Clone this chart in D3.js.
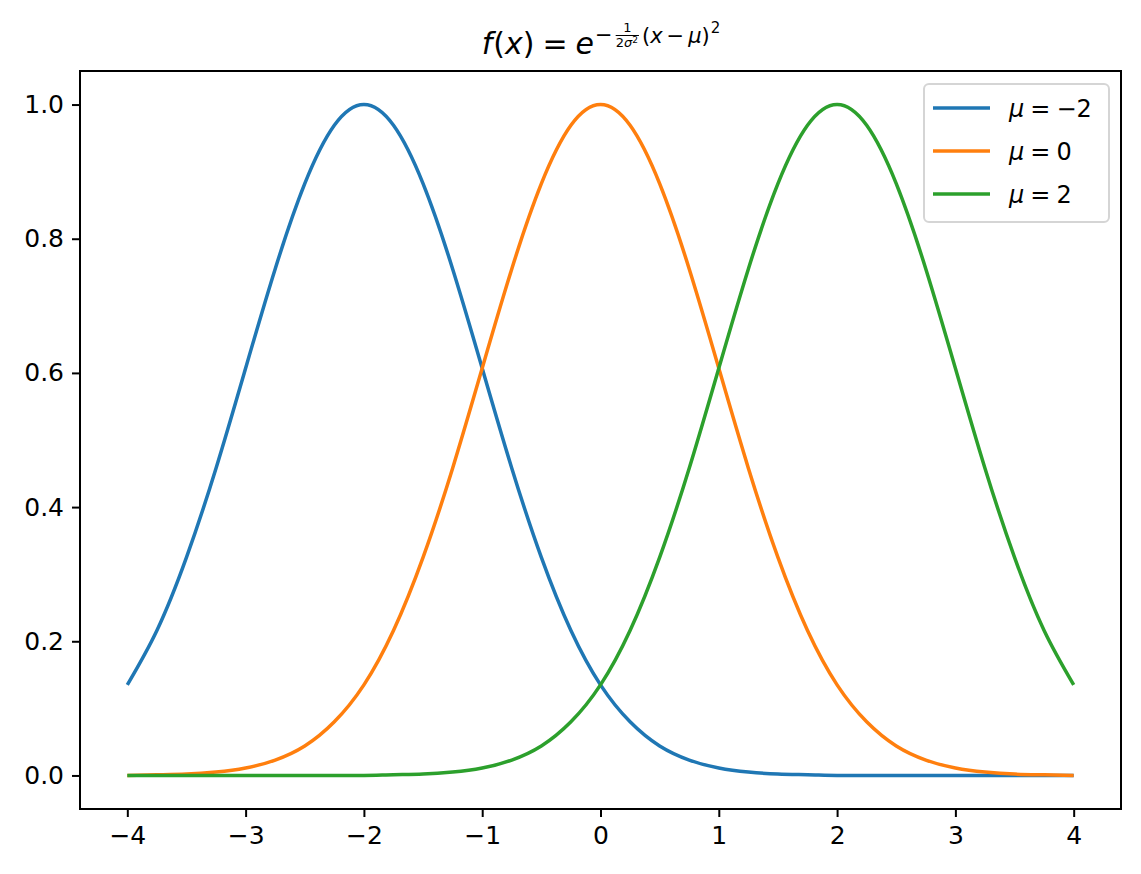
<!DOCTYPE html>
<html><head><meta charset="utf-8">
<script src="https://cdn.jsdelivr.net/npm/d3@7"></script>
<style>body{margin:0;background:#fff}svg{display:block}text{font-family:"DejaVu Sans",sans-serif}</style>
</head><body>
<svg id="c" width="1141" height="874"></svg>
<script>
const xs = [-4,-3.75,-3.5,-3.25,-3,-2.75,-2.5,-2.25,-2,-1.75,-1.5,-1.25,-1,-0.75,-0.5,-0.25,0,0.25,0.5,0.75,1,1.25,1.5,1.75,2,2.25,2.5,2.75,3,3.25,3.5,3.75,4];
const muNeg2 = [0.135,0.216,0.325,0.458,0.607,0.755,0.882,0.969,1.000,0.969,0.882,0.755,0.607,0.458,0.325,0.216,0.135,0.080,0.044,0.023,0.011,0.005,0.002,0.001,0.000,0,0,0,0,0,0,0,0];
const mu0 = [0.000,0.001,0.002,0.005,0.011,0.023,0.044,0.080,0.135,0.216,0.325,0.458,0.607,0.755,0.882,0.969,1.000,0.969,0.882,0.755,0.607,0.458,0.325,0.216,0.135,0.080,0.044,0.023,0.011,0.005,0.002,0.001,0.000];
const mu2 = [0,0,0,0,0,0,0,0,0.000,0.001,0.002,0.005,0.011,0.023,0.044,0.080,0.135,0.216,0.325,0.458,0.607,0.755,0.882,0.969,1.000,0.969,0.882,0.755,0.607,0.458,0.325,0.216,0.135];
const seriesNames = ["−2","0","2"];
const seriesColors = ["#1f77b4","#ff7f0e","#2ca02c"];
const xTicks = [-4,-3,-2,-1,0,1,2,3,4];
const yTicks = [0.0,0.2,0.4,0.6,0.8,1.0];

const svg = d3.select("#c");
const L=80, R=1121, T=71, B=809;
const x = d3.scaleLinear().domain([-4.4,4.4]).range([L,R]);
const y = d3.scaleLinear().domain([-0.05,1.05]).range([B,T]);
const tickFont = 25;

const series = [muNeg2, mu0, mu2];
const line = d3.line().x((d,i)=>x(xs[i])).y(d=>y(d)).curve(d3.curveNatural);
series.forEach((s,k)=>{
  svg.append("path").attr("d", line(s)).attr("fill","none")
    .attr("stroke", seriesColors[k]).attr("stroke-width",3.5).attr("stroke-linejoin","round").attr("stroke-linecap","butt");
});

// axes
const xAxis = d3.axisBottom(x).tickValues(xTicks).tickSize(8).tickPadding(8)
  .tickFormat(d=> d<0 ? "\u2212"+Math.abs(d) : String(d));
const gx = svg.append("g").attr("transform",`translate(0,${B})`).call(xAxis);
const yAxis = d3.axisLeft(y).tickValues(yTicks).tickSize(8).tickPadding(8).tickFormat(d3.format(".1f"));
const gy = svg.append("g").attr("transform",`translate(${L},0)`).call(yAxis);
[gx,gy].forEach(g=>{
  g.select(".domain").remove();
  g.selectAll(".tick line").attr("stroke","#000").attr("stroke-width",2);
  g.selectAll(".tick text").attr("font-size",tickFont).attr("fill","#000").attr("font-family","DejaVu Sans");
});
gx.selectAll(".tick text").attr("dy","0.75em");
svg.append("rect").attr("x",L).attr("y",T).attr("width",R-L).attr("height",B-T)
  .attr("fill","none").attr("stroke","#000").attr("stroke-width",2);

// legend
const lg = svg.append("g");
lg.append("rect").attr("x",924).attr("y",84).attr("width",185).attr("height",138).attr("rx",5)
  .attr("fill","#fff").attr("fill-opacity",0.8).attr("stroke","#d5d5d5").attr("stroke-width",2);
seriesNames.forEach((n,k)=>{
  const yy = 108 + k*43;
  lg.append("line").attr("x1",933).attr("x2",990).attr("y1",yy).attr("y2",yy)
    .attr("stroke",seriesColors[k]).attr("stroke-width",3.5);
  const t = lg.append("text").attr("x",1009).attr("y",yy+8.5).attr("font-size",24).attr("fill","#000");
  t.append("tspan").attr("font-style","italic").text("μ");
  t.append("tspan").attr("dx",6).text("=");
  t.append("tspan").attr("dx",6).text(n);
});

// title (mathtext-like)
const tg = svg.append("g");
const TS = 30, y0 = 0;
let cx = 0;
function put(str, size, dy, italic, dxBefore=0){
  cx += dxBefore;
  const t = tg.append("text").attr("x",cx).attr("y",y0+dy).attr("font-size",size)
    .attr("font-style", italic?"italic":"normal").attr("fill","#000").text(str);
  const w = t.node().getComputedTextLength();
  cx += w;
  return t;
}
put("f",TS,0,true);
put("(",TS,0,false,1);
put("x",TS,0,true);
put(")",TS,0,false);
put("=",TS,0,false,8);
put("e",TS,0,true,8);
const ES = 21, eup = -11;
put("\u2212",ES,eup-1,false,1);
// fraction
const FS = 13;
const fStart = cx + 3;
const denomT = tg.append("text").attr("y",y0+eup+4).attr("font-size",FS).attr("fill","#000");
denomT.append("tspan").text("2");
denomT.append("tspan").attr("font-style","italic").text("σ");
denomT.append("tspan").attr("font-size",9).attr("dy",-4).text("2");
const dw = denomT.node().getComputedTextLength() + 1;
denomT.attr("x",fStart);
const numT = tg.append("text").attr("y",y0+eup-11.5).attr("font-size",FS).attr("fill","#000").text("1");
const nw = numT.node().getComputedTextLength();
numT.attr("x",fStart + (dw-nw)/2);
tg.append("line").attr("x1",fStart).attr("x2",fStart+dw).attr("y1",y0+eup-7.5).attr("y2",y0+eup-7.5)
  .attr("stroke","#000").attr("stroke-width",1);
cx = fStart + dw + 3;
put("(",ES,eup,false);
put("x",ES,eup,true);
put("\u2212",ES,eup,false,4);
put("μ",ES,eup,true,4);
put(")",ES,eup,false);
put("2",15,eup-10,false,1);
const bb = tg.node().getBBox();
tg.attr("transform",`translate(${601 - (bb.x+bb.width/2)},54)`);
</script>
</body></html>
